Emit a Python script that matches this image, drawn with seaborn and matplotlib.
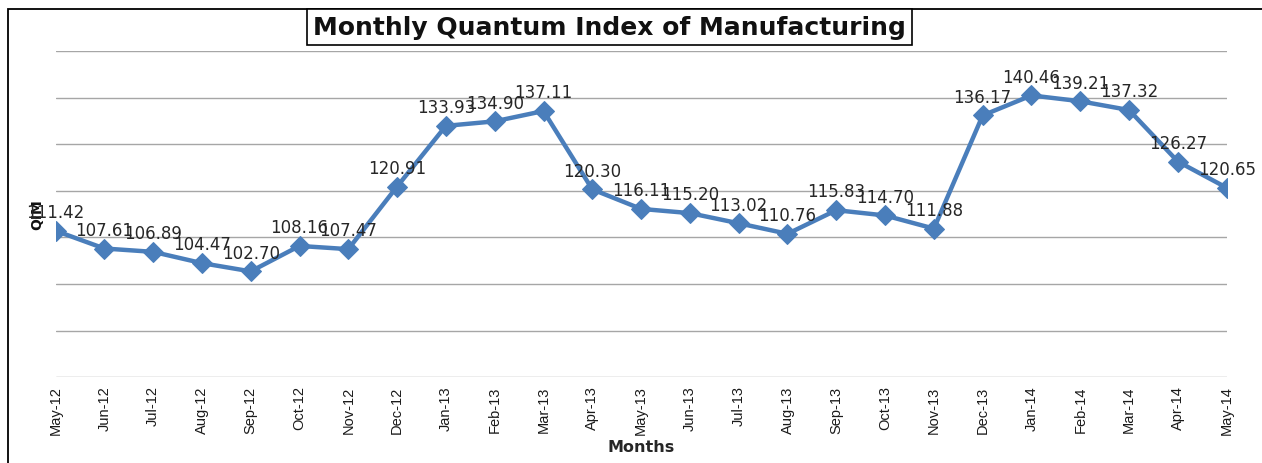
import numpy as np
import pandas as pd
import seaborn as sns
import matplotlib.pyplot as plt
from matplotlib.patches import Rectangle

# data
months = ['May-12', 'Jun-12', 'Jul-12', 'Aug-12', 'Sep-12', 'Oct-12', 'Nov-12',
          'Dec-12', 'Jan-13', 'Feb-13', 'Mar-13', 'Apr-13', 'May-13', 'Jun-13',
          'Jul-13', 'Aug-13', 'Sep-13', 'Oct-13', 'Nov-13', 'Dec-13', 'Jan-14',
          'Feb-14', 'Mar-14', 'Apr-14', 'May-14']
qim = [111.42, 107.61, 106.89, 104.47, 102.70, 108.16, 107.47,
       120.91, 133.93, 134.90, 137.11, 120.30, 116.11, 115.20,
       113.02, 110.76, 115.83, 114.70, 111.88, 136.17, 140.46,
       139.21, 137.32, 126.27, 120.65]

df = pd.DataFrame({'pos': np.arange(len(months)), 'month': months, 'qim': qim})

sns.set_theme(style='whitegrid')
plt.rcParams['font.family'] = ['DejaVu Sans']

fig = plt.figure(figsize=(12.62, 4.64), dpi=100)
ax = fig.add_axes([0.044, 0.185, 0.928, 0.703])

blue = '#4A7EBB'
sns.lineplot(data=df, x='pos', y='qim', ax=ax, color=blue, linewidth=3.2,
             marker='D', markersize=10, markeredgecolor=blue)

# data labels above the points
for x, y in zip(df['pos'], df['qim']):
    ax.annotate(f'{y:.2f}', (x, y), xytext=(0, 7), textcoords='offset points',
                ha='center', va='bottom', fontsize=12, color='#262626')

ax.set_xlim(0, len(months) - 1)
ax.set_ylim(80, 150)
ax.set_yticks(np.arange(80, 151, 10))
ax.set_yticklabels([])
ax.set_xticks(df['pos'])
ax.set_xticklabels(months, rotation=90, fontsize=10.5, family='Liberation Sans',
                   color='#1a1a1a')
ax.tick_params(axis='both', length=0, pad=6)
ax.grid(axis='x', visible=False)
ax.grid(axis='y', color='#A6A6A6', linewidth=1.0)
for s in ax.spines.values():
    s.set_visible(False)

ax.set_xlabel('Months', fontsize=11.5, fontweight='bold', color='#262626', labelpad=3)
ax.set_ylabel('QIM', fontsize=10, fontweight='bold', color='#111111', labelpad=2)

fig.text(0.483, 0.94, 'Monthly Quantum Index of Manufacturing', ha='center', va='center',
         fontsize=18, fontweight='bold', color='#111111',
         bbox=dict(boxstyle='square,pad=0.25', facecolor='white', edgecolor='black', linewidth=1.2))

# outer frame of the chart
fig.patches.append(Rectangle((8 / 1262, -0.02), 1.0, 1 - 10 / 464 + 0.02,
                             transform=fig.transFigure, fill=False,
                             edgecolor='black', linewidth=1.3))

fig.savefig('out.png', dpi=100)
